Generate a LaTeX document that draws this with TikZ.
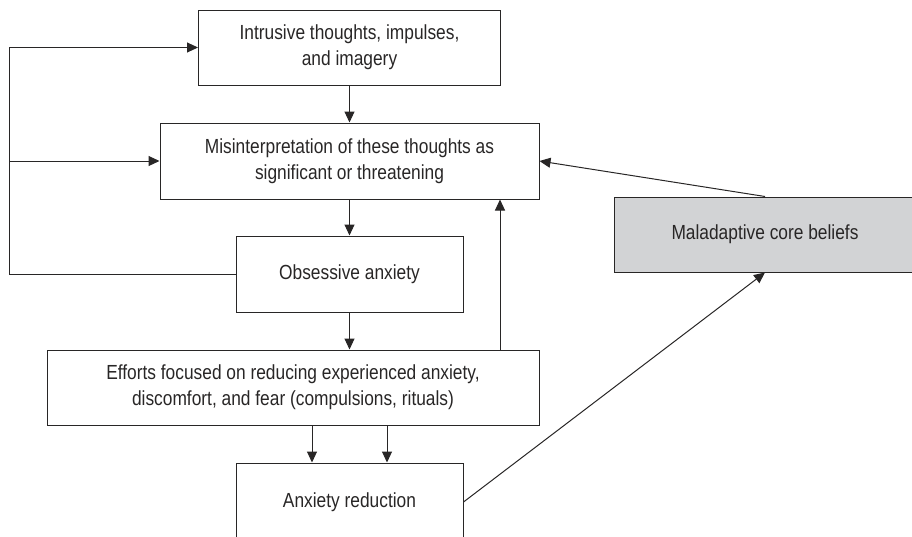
\documentclass[tikz,border=0pt]{standalone}
\usepackage{fontspec}
\setmainfont{Liberation Sans}[FakeStretch=0.85]
\usetikzlibrary{arrows.meta}
\definecolor{inkgray}{RGB}{40,38,38}
\definecolor{beliefgray}{RGB}{210,211,213}
\tikzset{stagebox/.style n args={2}{
    draw=inkgray, line width=1pt, text=inkgray,
    minimum width=#1, minimum height=#2, inner sep=0pt,
    align=center, font=\fontsize{20.4}{26}\selectfont
  },
  flowarrow/.style={draw=inkgray, line width=1pt, -{Triangle[length=11pt,width=10pt]}}
}

\begin{document}
\begin{tikzpicture}[x=1pt,y=-1pt]
      \useasboundingbox (0,0) rectangle (912,536);
      \clip (0,0) rectangle (912,536);
      \node[stagebox={302pt}{75pt}] (intrusive) at (349.5,47.5) {Intrusive thoughts, impulses,\\and imagery};
      \node[stagebox={379pt}{76pt}] (misread) at (349.5,161) {Misinterpretation of these thoughts as\\significant or threatening};
      \node[stagebox={227pt}{76pt}] (obsessive) at (349.5,274) {Obsessive anxiety};
      \node[stagebox={492pt}{75pt}] (efforts) at (293,387.5) {Efforts focused on reducing experienced anxiety,\\discomfort, and fear (compulsions, rituals)};
      \node[stagebox={227pt}{78pt}] (relief) at (349.5,502) {Anxiety reduction};
      \node[stagebox={302pt}{75pt}, fill=beliefgray] (beliefs) at (765,234.5) {Maladaptive core beliefs};
      \coordinate (loopcorner) at (9,274);
      \draw[flowarrow] (obsessive.west) -- (loopcorner) |- (intrusive.west);
      \draw[flowarrow] (loopcorner |- misread.west) -- (misread.west);
      \draw[flowarrow] (intrusive.south) -- (misread.north);
      \draw[flowarrow] (misread.south) -- (obsessive.north);
      \draw[flowarrow] (obsessive.south) -- (obsessive.south |- efforts.north);
      \draw[flowarrow] ([xshift=-37.5pt]relief.north |- efforts.south) -- ([xshift=-37.5pt]relief.north);
      \draw[flowarrow] ([xshift=37.5pt]relief.north |- efforts.south) -- ([xshift=37.5pt]relief.north);
      \draw[flowarrow] ([xshift=150.5pt]misread.south |- efforts.north) -- ([xshift=150.5pt]misread.south);
      \draw[flowarrow] (beliefs.north) -- (misread.east);
      \draw[flowarrow] (relief.east) -- (beliefs.south);
    \end{tikzpicture}
\end{document}
